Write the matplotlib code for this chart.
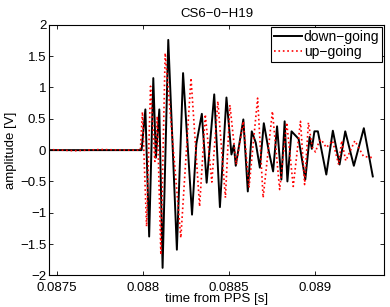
import numpy as np
import matplotlib.pyplot as plt

# extrema (time in s, amplitude in V)
t_down = [0.08745, 0.087991, 0.088013, 0.088035, 0.088059, 0.088074, 0.088094, 0.088113,
          0.088146, 0.088196, 0.088232, 0.088284, 0.088309, 0.088341, 0.088369, 0.088413,
          0.088446, 0.088484, 0.088513, 0.088527, 0.088538, 0.088582, 0.088608, 0.088631,
          0.088654, 0.088678, 0.088701, 0.088730, 0.088755, 0.088778, 0.088803, 0.088822,
          0.088838, 0.088862, 0.088903, 0.088942, 0.088967, 0.088980, 0.088995, 0.089015,
          0.089064, 0.089102, 0.089141, 0.089174, 0.089224, 0.089282, 0.089334]
v_down = [0.0, 0.0, 0.65, -1.38, 1.15, -0.12, 0.65, -1.88,
          1.76, -1.59, 1.23, -1.03, 0.1, 0.58, -0.52, 0.89,
          -0.91, 0.84, -0.07, 0.08, -0.25, 0.49, -0.66, 0.30,
          0.12, -0.28, 0.43, -0.02, -0.34, 0.38, -0.47, 0.46,
          -0.50, 0.30, 0.18, -0.47, 0.21, 0.02, 0.30, 0.30,
          -0.39, 0.31, -0.23, 0.30, -0.25, 0.35, -0.42]

t_up = [0.08745, 0.08760, 0.08775, 0.08790, 0.087984, 0.087996, 0.088020, 0.088043,
        0.088068, 0.088082, 0.088103, 0.088128, 0.088219, 0.088278, 0.088328, 0.088361,
        0.088399, 0.088434, 0.088478, 0.088504, 0.088541, 0.088582, 0.088615, 0.088665,
        0.088697, 0.088751, 0.088793, 0.088834, 0.088872, 0.088914, 0.088938, 0.088960,
        0.088982, 0.089001, 0.089021, 0.089034, 0.089064, 0.089100, 0.089136, 0.089153,
        0.089177, 0.089230, 0.089280, 0.089334]
v_up = [0.01, -0.01, 0.01, 0.0, 0.0, 0.61, -1.22, 1.02,
        -0.18, 0.54, -1.67, 1.55, -1.40, 1.15, -0.90, 0.57,
        -0.51, 0.78, -0.76, 0.72, -0.23, 0.46, -0.60, 0.83,
        -0.76, 0.62, -0.63, 0.44, -0.58, 0.46, -0.55, 0.44,
        0.05, -0.03, 0.13, 0.17, 0.04, 0.15, -0.23, 0.15,
        -0.17, 0.15, -0.10, -0.12]

x_ticks = [0.0875, 0.088, 0.0885, 0.089]
x_labels = ['0.0875', '0.088', '0.0885', '0.089']
y_ticks = [-2, -1.5, -1, -0.5, 0, 0.5, 1, 1.5, 2]
y_labels = ['\u22122', '\u22121.5', '\u22121', '\u22120.5', '0', '0.5', '1', '1.5', '2']

plt.rcParams['font.family'] = ['Liberation Sans', 'DejaVu Sans']
plt.rcParams['font.size'] = 9.5

fig = plt.figure(figsize=(3.9, 3.07), dpi=100)
ax = fig.add_axes([0.126, 0.103, 0.859, 0.816])

ax.plot(t_down, v_down, color='black', lw=1.4, solid_joinstyle='round',
        label='down\u2212going')
ax.plot(t_up, v_up, color='red', lw=1.2, ls=':', label='up\u2212going')

ax.set_xlim(0.087454, 0.0894)
ax.set_ylim(-2, 2)
ax.set_xticks(x_ticks)
ax.set_xticklabels(x_labels)
ax.set_yticks(y_ticks)
ax.set_yticklabels(y_labels)
ax.tick_params(direction='in', top=True, right=True, length=3, width=0.6)
ax.tick_params(axis='x', pad=4.5)
ax.tick_params(axis='y', pad=2)
for lab in ax.get_yticklabels():
    lab.set_verticalalignment('center_baseline')
for s in ax.spines.values():
    s.set_linewidth(0.8)

ax.set_xlabel('time from PPS [s]', labelpad=-0.5)
ax.set_ylabel('amplitude [V]', labelpad=2)
ax.set_title('CS6\u22120\u2212H19', fontsize=9.5, pad=6)

leg = ax.legend(loc='upper right', fancybox=False, framealpha=1, edgecolor='black',
                borderpad=0.2, handlelength=2.0, handletextpad=0.15, labelspacing=0.1,
                borderaxespad=0.15, fontsize=10)
leg.get_frame().set_linewidth(0.8)

plt.savefig('out.png', dpi=100)
